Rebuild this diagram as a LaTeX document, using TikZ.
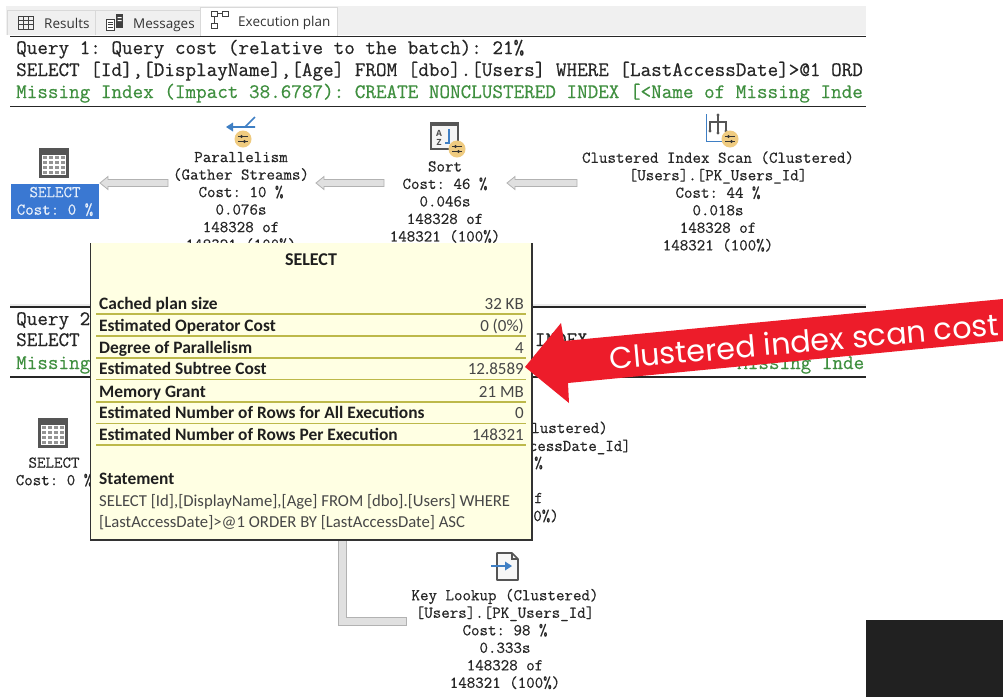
\documentclass[tikz,border=0pt]{standalone}
\usepackage{fontspec}
\usetikzlibrary{calc}
\setmonofont[FakeBold=0.45]{Latin Modern Mono}
\newfontfamily\tipf{Carlito}
\newfontfamily\tabf{Open Sans}
\newfontfamily\labf{Poppins}
\definecolor{ink}{HTML}{262626}
\definecolor{sqlgreen}{HTML}{3F8F3F}
\definecolor{tipbg}{HTML}{FFFFE3}
\definecolor{tipline}{HTML}{BDB94A}
\definecolor{selblue}{HTML}{3A78D2}
\definecolor{arrowred}{HTML}{ED1C2A}
\definecolor{tabgray}{HTML}{F0F0F0}
\definecolor{planblue}{HTML}{3F7FC4}
\definecolor{badge}{HTML}{EFCB80}
\definecolor{icongray}{HTML}{555555}
\tikzset{
 plantext/.style={font=\ttfamily\fontsize{16.5}{17.5}\selectfont,text=ink,align=center,inner sep=0pt},
 querytext/.style={font=\ttfamily\fontsize{20.55}{22}\selectfont,text=ink,anchor=base west,inner sep=0pt},
 greentext/.style={querytext,text=sqlgreen},
 rule/.style={draw=black!85,line width=1.3pt},
 hollow/.style={fill=black!12,draw=black!30,line width=.8pt},
 tiprule/.style={draw=tipline,line width=1.3pt},
 tipkey/.style={font=\tipf\bfseries\fontsize{17.4}{20}\selectfont,text=black!88,anchor=base west,inner sep=0pt},
 tipval/.style={font=\tipf\fontsize{17}{20}\selectfont,text=black!72,anchor=base east,inner sep=0pt},
 tiptext/.style={font=\tipf\fontsize{16.7}{20}\selectfont,text=black!72,anchor=base west,inner sep=0pt},
 tabtext/.style={font=\tabf\fontsize{13.5}{16}\selectfont,text=black!80,anchor=base west,inner sep=0pt},
}
% hollow connector pointing left
\newcommand{\hollowleft}[2]{\draw[hollow] ($(#1)+(0,-3.5)$) -- ($(#2)+(8,-3.5)$) -- ($(#2)+(8,-6.5)$) -- (#2) -- ($(#2)+(8,6.5)$) -- ($(#2)+(8,3.5)$) -- ($(#1)+(0,3.5)$) -- cycle;}
% table icon centred on a coordinate
\newcommand{\gridicon}[1]{
 \begin{scope}[shift={(#1)}]
 \fill[icongray] (-15,-15) rectangle (15,15);
 \fill[white] (-12,-8) rectangle (12,12);
 \foreach \xx in {-12,-6,0,6} \foreach \yy in {-8,-3,2,7}
   \fill[black!42] (\xx+.8,\yy+.8) rectangle (\xx+5.2,\yy+4);
 \end{scope}}
\newcommand{\badgeicon}[1]{
 \fill[badge] (#1) circle (8.5);
 \begin{scope}[shift={(#1)}]
 \draw[black!80,line width=1pt] (-5,-2.5) -- (5,-2.5) (-5,2.5) -- (5,2.5);
 \fill[black!80] (-1.5,-2.5) circle (1.6) (1.5,2.5) circle (1.6);
 \end{scope}}
\begin{document}
\begin{tikzpicture}[x=1pt,y=-1pt]
\useasboundingbox (0,0) rectangle (1003,697);
\fill[white] (0,0) rectangle (1003,697);
% tab strip
\fill[tabgray] (6,6) rectangle (866,35);
\draw[black!15,line width=.7pt] (7,35) -- (7,10) -- (95,10) -- (95,35) (95,10) -- (200,10);
\draw[fill=white,draw=black!15,line width=.7pt] (200,35.5) -- (200,7) -- (337,7) -- (337,35.5);
\begin{scope}[shift={(18,16)}]
 \draw[black!75,line width=.9pt] (0,0) rectangle (15,13) (0,4) -- (15,4) (0,8.5) -- (15,8.5) (5,0) -- (5,13) (10,0) -- (10,13);
\end{scope}
\begin{scope}[shift={(106,14)}]
 \draw[black!75,line width=.9pt,fill=white] (0,5) rectangle (8,16);
 \draw[black!75,line width=.7pt] (1.5,8) -- (6.5,8) (1.5,10.5) -- (6.5,10.5) (1.5,13) -- (6.5,13);
 \fill[black!75] (10,0) rectangle (17,14);
 \fill[white] (11.5,3) rectangle (15.5,4) (11.5,6) rectangle (15.5,7);
\end{scope}
\begin{scope}[shift={(211,11)}]
 \draw[black!75,line width=.9pt] (0,0) rectangle (6,5) (11,0) rectangle (17,5) (0,12) rectangle (6,17) (6,2.5) -- (11,2.5) (3,5) -- (3,12);
\end{scope}
\node[tabtext] (tabresults) at (44,28) {Results};
\node[tabtext] (tabmessages) at (133,28) {Messages};
\node[tabtext] (tabplan) at (238,26) {Execution plan};
\draw[rule] (10,36.5) -- (866,36.5);
% query 1 header
\node[querytext] (q1a) at (16,54) {Query 1: Query cost (relative to the batch): 21\%};
\begin{scope}
 \clip (0,40) rectangle (866,110);
 \node[querytext] (q1b) at (16,76) {SELECT [Id],[DisplayName],[Age] FROM [dbo].[Users] WHERE [LastAccessDate]>@1 ORD};
 \node[greentext] (q1c) at (16,98) {Missing Index (Impact 38.6787): CREATE NONCLUSTERED INDEX [<Name of Missing Inde};
\end{scope}
\draw[rule] (10,106.5) -- (866,106.5);
% plan 1
\gridicon{54,163}
\fill[selblue] (11,184) rectangle (99,219);
\node[plantext,text=white!88!selblue] (sel1) at (55,201.5) {SELECT\\Cost: 0 \%};
% parallelism icon
\draw[planblue,line width=1.6pt] (229,127) -- (254,127) (255,117) -- (245,127) -- (255,127);
\fill[planblue] (226,127) -- (233,122.5) -- (233,131.5) -- cycle;
\badgeicon{243,139}
\node[plantext] (par) at (241,201.5) {Parallelism\\(Gather Streams)\\Cost: 10 \%\\0.076s\\148328 of\\148321 (100\%)};
% sort icon
\draw[icongray,line width=2pt,fill=black!4] (431,124) rectangle (458,149);
\fill[icongray] (430,122) rectangle (459,126);
\node[font=\tabf\bfseries\fontsize{8.5}{9}\selectfont,text=black!70,align=center,inner sep=0pt] (az) at (439,138) {A\\Z};
\draw[planblue,line width=1.2pt] (449,129) -- (449,143) -- (445,143);
\badgeicon{457,149}
\node[plantext] (sort) at (445,202) {Sort\\Cost: 46 \%\\0.046s\\148328 of\\148321 (100\%)};
% scan icon
\draw[planblue,line width=1pt] (706,114) -- (706,141) -- (727,141);
\draw[icongray,line width=1.2pt] (718,114) -- (718,133) (710,131) -- (710,122) -- (726,122) -- (726,131);
\fill[icongray] (718,115) circle (1.6) (718,133) circle (1.6) (710,131) circle (1.6) (726,131) circle (1.6);
\badgeicon{730,139}
\node[plantext] (scan) at (718,201.5) {Clustered Index Scan (Clustered)\\{}[Users].[PK\_Users\_Id]\\Cost: 44 \%\\0.018s\\148328 of\\148321 (100\%)};
% connectors plan 1
\coordinate (a1s) at (168,183); \coordinate (a1t) at (100,183);
\coordinate (a2s) at (384,183); \coordinate (a2t) at (316,183);
\coordinate (a3s) at (577,183); \coordinate (a3t) at (507,183);
\hollowleft{a1s}{a1t}
\hollowleft{a2s}{a2t}
\hollowleft{a3s}{a3t}
% query 2 header
\fill[black!8] (10,304) rectangle (866,306.5);
\draw[rule] (10,307) -- (866,307);
\node[querytext] (q2a) at (16,325) {Query 2};
\node[querytext] (q2b) at (16,346) {SELECT};
\node[querytext,anchor=base east] (q2bb) at (588,346) {INDEX};
\node[greentext] (q2c) at (16,369) {Missing};
\begin{scope}
 \clip (600,350) rectangle (866,376);
 \node[greentext] (q2d) at (737,369) {Missing Inde};
\end{scope}
\draw[rule] (10,377) -- (866,377);
% plan 2
\gridicon{53,433}
\node[plantext] (sel2) at (54,472) {SELECT\\Cost: 0 \%};
\node[plantext,anchor=base east] (seek1) at (608,433) {Clustered)};
\node[plantext,anchor=base east] (seek2) at (631,451) {ccessDate\_Id]};
\node[plantext,anchor=base east] (seek3) at (543,468) {\%};
\node[plantext,anchor=base east] (seek5) at (543,503) {f};
\node[plantext,anchor=base east] (seek6) at (559,521) {100\%)};
% key lookup
\draw[icongray,line width=1.6pt,fill=black!3,line join=round] (497,553) -- (512,553) -- (518,559) -- (518,580) -- (497,580) -- cycle;
\draw[icongray,line width=1.2pt] (512,553) -- (512,559) -- (518,559);
\draw[planblue,line width=1.8pt] (491,566) -- (507,566);
\fill[planblue] (512,566) -- (505,561.5) -- (505,570.5) -- cycle;
\node[plantext] (key) at (505,639) {Key Lookup (Clustered)\\{}[Users].[PK\_Users\_Id]\\Cost: 98 \%\\0.333s\\148328 of\\148321 (100\%)};
% elbow connector
\coordinate (ele) at (406,621);
\draw[hollow] (338,535) -- (338,625) -- (ele |- 0,625) -- (ele |- 0,617) -- (346,617) -- (346,535) -- cycle;
% tooltip
\draw[fill=tipbg,draw=none] (90,243) rectangle (532,540);
\draw[black!80,line width=1.2pt] (90,540) -- (532,540) -- (532,243);
\draw[black!80,line width=.8pt] (90,243) -- (90,540);
\node[font=\tipf\bfseries\fontsize{18}{20}\selectfont,text=black!88,inner sep=0pt] (title) at (311,260) {SELECT};
\foreach \yy/\k/\v in {309/Cached plan size/32 KB,331/Estimated Operator Cost/0 (0\%),353/Degree of Parallelism/4,374.5/Estimated Subtree Cost/12.8589,397/Memory Grant/21 MB,418.5/Estimated Number of Rows for All Executions/0,440/Estimated Number of Rows Per Execution/148321}{
 \node[tipkey] at (99,\yy) {\k};
 \node[tipval] at (524,\yy) {\v};
 \draw[tiprule] (96,\yy+5) -- (526,\yy+5);
}
\node[tipkey] (stmt) at (99,484) {Statement};
\node[tiptext] (stmt1) at (99,506) {SELECT [Id],[DisplayName],[Age] FROM [dbo].[Users] WHERE};
\node[tiptext] (stmt2) at (99,527) {[LastAccessDate]>@1 ORDER BY [LastAccessDate] ASC};
% red callout arrow
\fill[arrowred] (525,367) -- (561,323) -- (564,341) -- (1003,299) -- (1003,341) -- (568,383) -- (569,403) -- cycle;
\node[font=\labf\fontsize{30.3}{32}\selectfont,text=white,inner sep=0pt,rotate=5] (calllabel) at (804,341) {Clustered index scan cost};
% dark corner
\fill[black!87] (866,620) rectangle (1003,697);
\end{tikzpicture}
\end{document}
